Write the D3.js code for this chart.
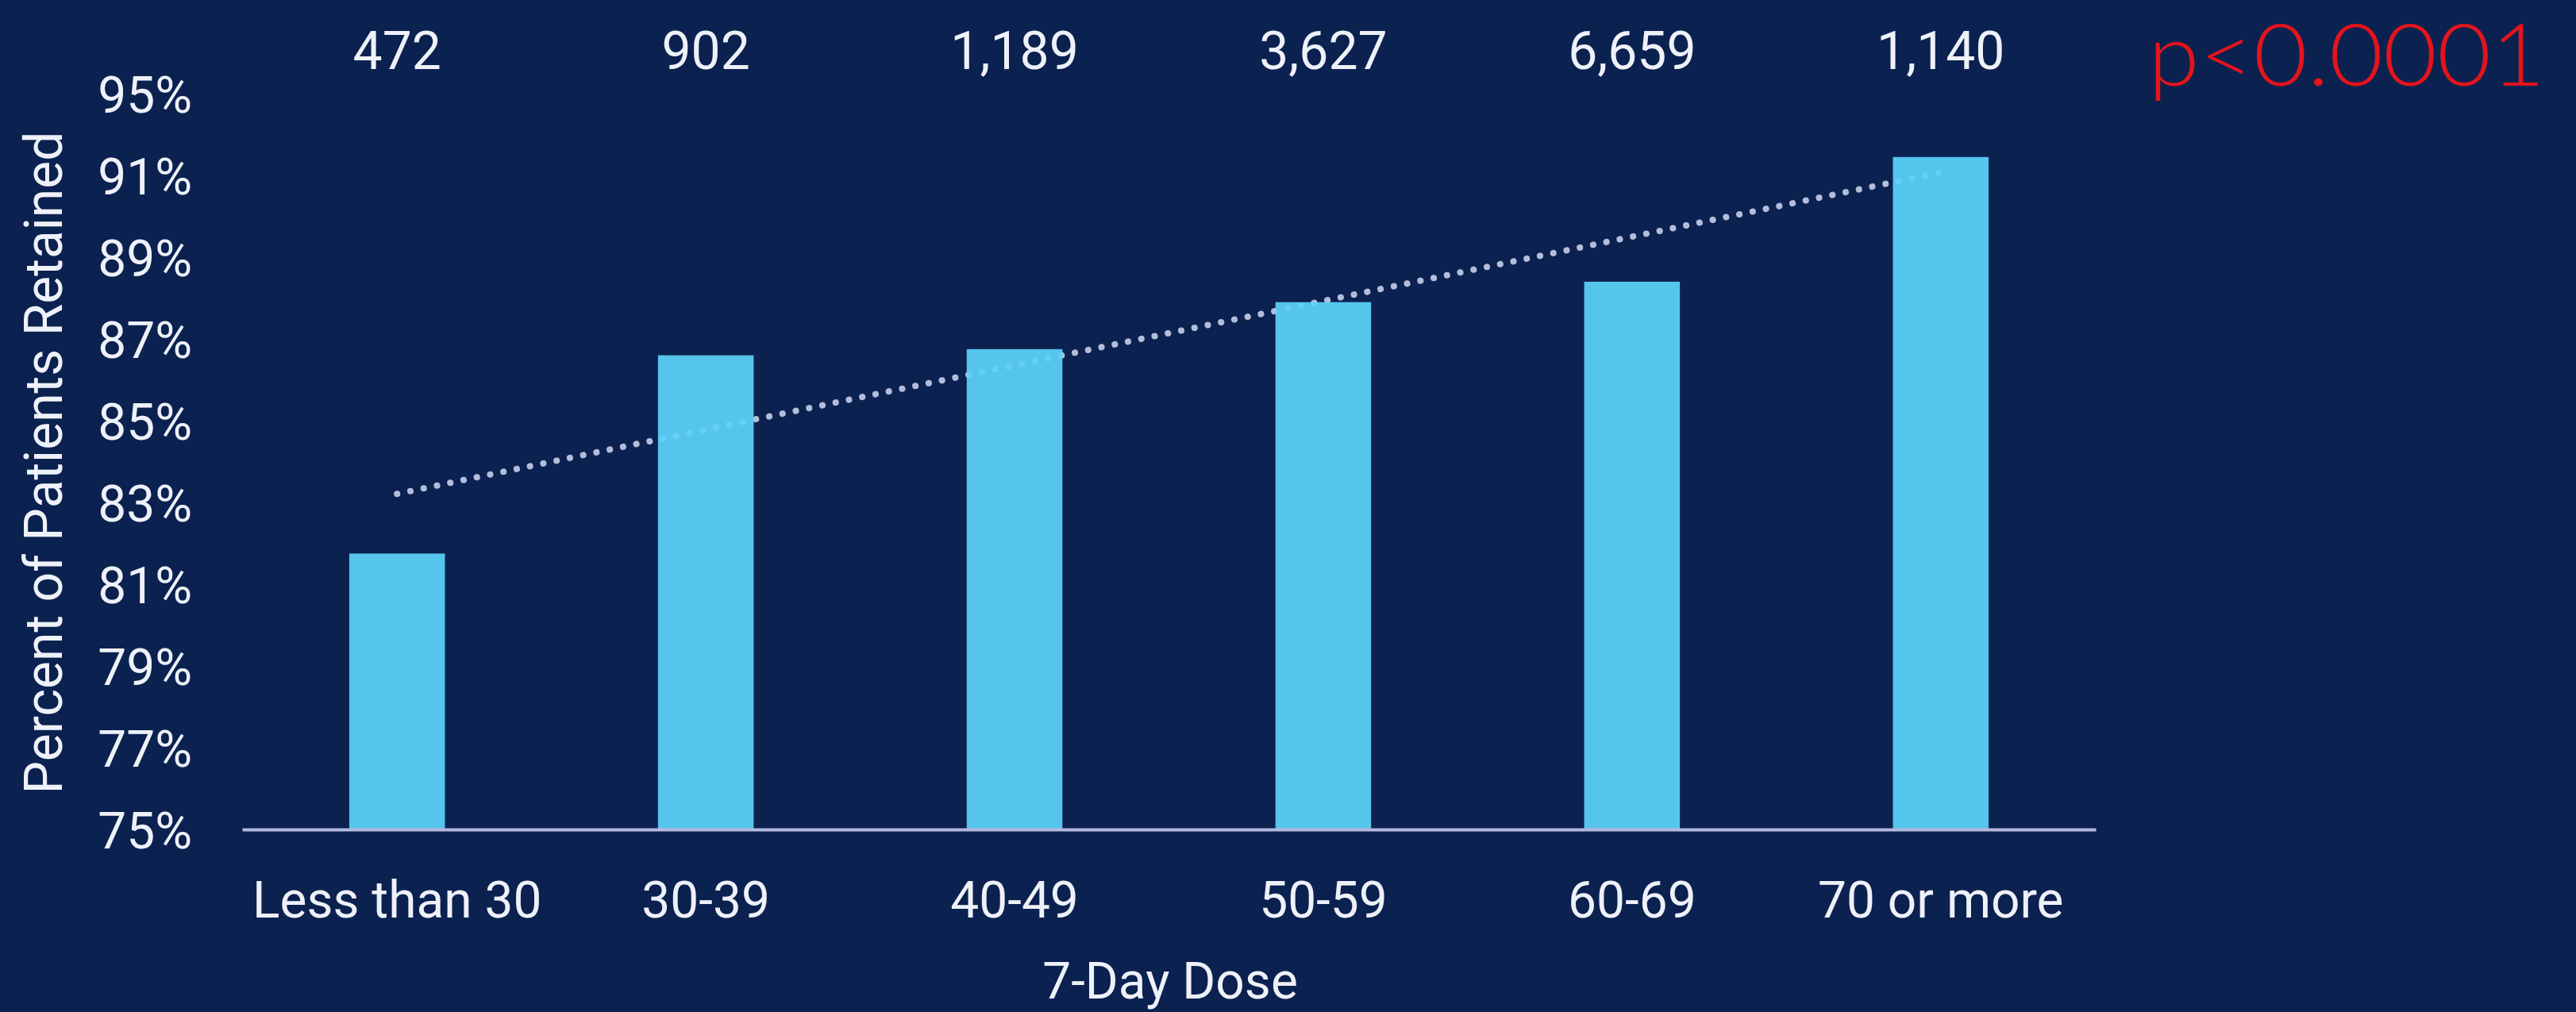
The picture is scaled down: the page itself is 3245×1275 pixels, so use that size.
<!DOCTYPE html>
<html>
<head>
<meta charset="utf-8">
<script src="https://cdn.jsdelivr.net/npm/d3@7"></script>
<style>
  html, body { margin: 0; padding: 0; background: #0b2150; }
  svg { display: block; }
</style>
</head>
<body>
<div id="chart"></div>
<script>
// data
const doseGroups = ["Less than 30", "30-39", "40-49", "50-59", "60-69", "70 or more"];
const retained = [81.75, 86.6, 86.75, 87.9, 88.4, 91.45];
const patientCounts = ["472", "902", "1,189", "3,627", "6,659", "1,140"];
const tickValues = [75, 77, 79, 81, 83, 85, 87, 89, 91, 93];
const tickLabels = ["75%", "77%", "79%", "81%", "83%", "85%", "87%", "89%", "91%", "95%"];
const pValue = "p<0.0001";

const width = 3245, height = 1275;

const svg = d3.select('#chart').append('svg')
    .attr('width', width)
    .attr('height', height);

svg.append('rect')
    .attr('width', width)
    .attr('height', height)
    .attr('fill', '#0b2150');

// scales
const xScale = d3.scaleBand()
    .domain(doseGroups)
    .range([305, 2640])
    .paddingInner(0.69)
    .paddingOuter(0.347);
const yScale = d3.scaleLinear()
    .domain([75, 93])
    .range([1045, 118]);

const textColor = '#eef1f8';
const font = 'Roboto, "Noto Sans", sans-serif';

// y axis (labels only)
const yAxis = svg.append('g')
    .attr('transform', 'translate(252, 0)')
    .call(d3.axisLeft(yScale)
        .tickValues(tickValues)
        .tickFormat((d, i) => tickLabels[i])
        .tickSize(0)
        .tickPadding(10));
yAxis.select('.domain').remove();
yAxis.selectAll('text')
    .attr('fill', textColor)
    .attr('font-family', font)
    .attr('font-size', 64)
    .attr('dy', '0.36em');

// linear trend line fitted to the bar values (sits behind the bars)
const idx = doseGroups.map((d, i) => i);
const mx = d3.mean(idx), my = d3.mean(retained);
const slope = d3.sum(idx, i => (i - mx) * (retained[i] - my)) / d3.sum(idx, i => (i - mx) ** 2);
const intercept = my - slope * mx;
const cx = d => xScale(d) + xScale.bandwidth() / 2;
const trend = [0, doseGroups.length - 1].map(i => [cx(doseGroups[i]), yScale(intercept + slope * i)]);

svg.append('path')
    .attr('d', d3.line()(trend))
    .attr('fill', 'none')
    .attr('stroke', '#b3bddb')
    .attr('stroke-width', 8)
    .attr('stroke-linecap', 'round')
    .attr('stroke-dasharray', '0.1 17');

// bars
svg.selectAll('.bar')
    .data(doseGroups)
    .enter().append('rect')
    .attr('class', 'bar')
    .attr('x', d => xScale(d))
    .attr('width', xScale.bandwidth())
    .attr('y', (d, i) => yScale(retained[i]))
    .attr('height', (d, i) => yScale(75) - yScale(retained[i]))
    .attr('fill', '#5dd2f9')
    .attr('fill-opacity', 0.93);

// baseline / x axis
const xAxis = svg.append('g')
    .attr('transform', `translate(0, ${yScale(75)})`)
    .call(d3.axisBottom(xScale).tickSize(0).tickPadding(66));
xAxis.select('.domain')
    .attr('stroke', '#b3b8de')
    .attr('stroke-width', 4);
xAxis.selectAll('text')
    .attr('fill', textColor)
    .attr('font-family', font)
    .attr('font-size', 64);

// patient counts above
svg.selectAll('.count')
    .data(patientCounts)
    .enter().append('text')
    .attr('class', 'count')
    .attr('x', (d, i) => cx(doseGroups[i]))
    .attr('y', 87)
    .attr('text-anchor', 'middle')
    .attr('fill', textColor)
    .attr('font-family', font)
    .attr('font-size', 66)
    .text(d => d);

// axis titles
svg.append('text')
    .attr('transform', 'translate(78, 583) rotate(-90)')
    .attr('text-anchor', 'middle')
    .attr('fill', textColor)
    .attr('font-family', font)
    .attr('font-size', 66)
    .text('Percent of Patients Retained');

svg.append('text')
    .attr('x', 1474)
    .attr('y', 1258)
    .attr('text-anchor', 'middle')
    .attr('fill', textColor)
    .attr('font-family', font)
    .attr('font-size', 64)
    .text('7-Day Dose');

// p value
svg.append('text')
    .attr('x', 3206)
    .attr('y', 108)
    .attr('text-anchor', 'end')
    .attr('fill', '#e3141c')
    .attr('font-family', 'Lato, "Open Sans", sans-serif')
    .attr('font-weight', 300)
    .attr('font-size', 108)
    .attr('textLength', 500)
    .attr('lengthAdjust', 'spacingAndGlyphs')
    .text(pValue);
</script>
</body>
</html>
